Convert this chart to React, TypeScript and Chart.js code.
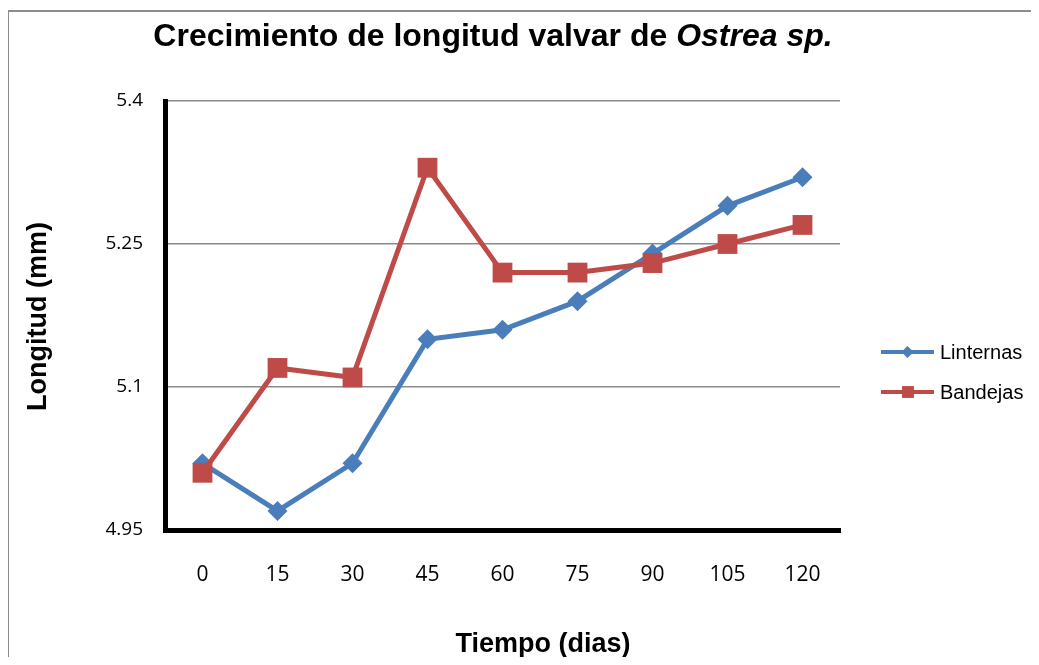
import React, { useEffect, useRef } from 'react';
import { Chart, registerables } from 'chart.js';

Chart.register(...registerables);

const categories = ['0', '15', '30', '45', '60', '75', '90', '105', '120'];
const linternas = [5.02, 4.97, 5.02, 5.15, 5.16, 5.19, 5.24, 5.29, 5.32];
const bandejas = [5.01, 5.12, 5.11, 5.33, 5.22, 5.22, 5.23, 5.25, 5.27];
const yTickValues = [4.95, 5.1, 5.25, 5.4];
const yTickLabels = ['4.95', '5.1', '5.25', '5.4'];
const seriesNames = ['Linternas', 'Bandejas'];
const seriesColors = ['#4A7EBB', '#BE4B48'];
const titleMain = 'Crecimiento de longitud valvar de ';
const titleItalic = 'Ostrea sp.';
const xTitle = 'Tiempo (dias)';
const yTitle = 'Longitud (mm)';

const W = 1039;
const H = 665;

const decorPlugin = {
  id: 'decor',
  afterDraw(chart: any) {
    const ctx = chart.ctx as CanvasRenderingContext2D;
    const area = chart.chartArea;
    ctx.save();
    ctx.fillStyle = '#000';
    // Title with italic part
    const fMain = 'bold 32px "Liberation Sans", Arial, sans-serif';
    const fIt = 'italic bold 32px "Liberation Sans", Arial, sans-serif';
    ctx.font = fMain;
    const w1 = ctx.measureText(titleMain).width;
    ctx.font = fIt;
    const w2 = ctx.measureText(titleItalic).width;
    const cx = 493;
    const startX = cx - (w1 + w2) / 2;
    ctx.textBaseline = 'alphabetic';
    ctx.textAlign = 'left';
    ctx.font = fMain;
    ctx.fillText(titleMain, startX, 46);
    ctx.font = fIt;
    ctx.fillText(titleItalic, startX + w1, 46);

    // X axis title
    ctx.font = 'bold 27px "Liberation Sans", Arial, sans-serif';
    ctx.textAlign = 'center';
    ctx.fillText(xTitle, 543, 652);

    // Y axis title
    ctx.save();
    ctx.translate(46, (area.top + area.bottom) / 2 + 1);
    ctx.rotate(-Math.PI / 2);
    ctx.textAlign = 'center';
    ctx.textBaseline = 'alphabetic';
    ctx.fillText(yTitle, 0, 0);
    ctx.restore();

    // Legend
    const legendY = [352, 392];
    const styles = ['rectRot', 'rect'];
    const radii = [6, 8];
    for (let i = 0; i < seriesNames.length; i++) {
      const y = legendY[i];
      ctx.strokeStyle = seriesColors[i];
      ctx.lineWidth = 4;
      ctx.lineCap = 'butt';
      ctx.beginPath();
      ctx.moveTo(881, y);
      ctx.lineTo(934, y);
      ctx.stroke();
      ctx.fillStyle = seriesColors[i];
      ctx.beginPath();
      if (styles[i] === 'rectRot') {
        const r = radii[i];
        ctx.moveTo(907.5, y - r);
        ctx.lineTo(907.5 + r, y);
        ctx.lineTo(907.5, y + r);
        ctx.lineTo(907.5 - r, y);
        ctx.closePath();
      } else {
        const r = radii[i] * Math.SQRT1_2 * 1.05;
        ctx.rect(908 - r, y - r, 2 * r, 2 * r);
      }
      ctx.fill();
      ctx.fillStyle = '#000';
      ctx.font = '20px "Liberation Sans", Arial, sans-serif';
      ctx.textAlign = 'left';
      ctx.textBaseline = 'middle';
      ctx.fillText(seriesNames[i], 940, y + 1);
    }
    ctx.restore();
  },
};

export default function App() {
  const ref = useRef<HTMLCanvasElement | null>(null);

  useEffect(() => {
    if (!ref.current) return;
    const chart = new Chart(ref.current, {
      type: 'line',
      data: {
        labels: categories,
        datasets: [
          {
            label: seriesNames[0],
            data: linternas,
            borderColor: seriesColors[0],
            backgroundColor: seriesColors[0],
            borderWidth: 5,
            pointStyle: 'rectRot',
            pointRadius: 10,
            pointHoverRadius: 10,
            pointBorderWidth: 0,
            pointBackgroundColor: seriesColors[0],
            tension: 0,
            order: 1,
          },
          {
            label: seriesNames[1],
            data: bandejas,
            borderColor: seriesColors[1],
            backgroundColor: seriesColors[1],
            borderWidth: 5,
            pointStyle: 'rect',
            pointRadius: 14,
            pointHoverRadius: 14,
            pointBorderWidth: 0,
            pointBackgroundColor: seriesColors[1],
            tension: 0,
            order: 0,
          },
        ],
      },
      options: {
        animation: false,
        responsive: false,
        events: [],
        layout: { padding: { left: 0, right: W - 840, top: 101, bottom: 0 } },
        plugins: {
          legend: { display: false },
          title: { display: false },
          tooltip: { enabled: false },
        },
        scales: {
          x: {
            offset: true,
            grid: { display: false, drawTicks: false },
            border: { display: true, color: '#000', width: 5 },
            ticks: {
              color: '#000',
              padding: 32,
              font: { family: '"Open Sans", sans-serif', size: 21 },
            },
            afterFit: (s: any) => {
              s.height = H - 530;
            },
          },
          y: {
            min: 4.95,
            max: 5.4,
            grid: { color: '#8a8a8a', lineWidth: 1.5, drawTicks: false },
            border: { display: true, color: '#000', width: 5 },
            afterBuildTicks: (s: any) => {
              s.ticks = yTickValues.map((v) => ({ value: v }));
            },
            ticks: {
              color: '#000',
              padding: 22,
              font: { family: '"Open Sans", sans-serif', size: 19 },
              callback: (_v: any, i: number) => yTickLabels[i],
            },
            afterFit: (s: any) => {
              s.width = 165;
            },
          },
        },
      },
      plugins: [decorPlugin],
    });
    return () => chart.destroy();
  }, []);

  return (
    <div
      style={{
        position: 'relative',
        width: W,
        height: H,
        margin: -8,
        overflow: 'hidden',
        background: '#fff',
      }}
    >
      <div
        style={{
          position: 'absolute',
          left: 7,
          top: 10,
          width: 1100,
          height: 700,
          border: '2px solid #8c8c8c',
          boxSizing: 'border-box',
        }}
      />
      <canvas
        ref={ref}
        width={W}
        height={H}
        style={{ position: 'absolute', left: 0, top: 0, width: W, height: H }}
      />
    </div>
  );
}
